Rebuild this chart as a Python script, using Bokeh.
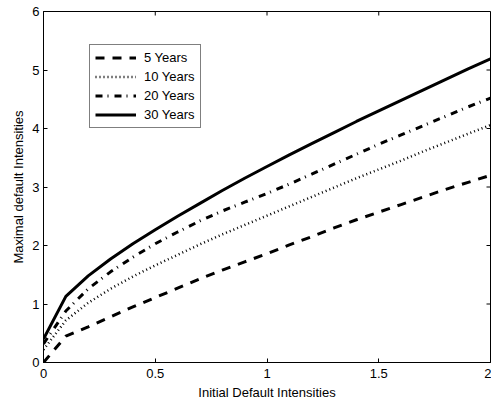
from bokeh.plotting import figure
from bokeh.models import LinearAxis, FixedTicker, Legend, LegendItem, Range1d
from bokeh.embed import file_html
from bokeh.resources import INLINE

x_vals = [0.0, 0.1, 0.2, 0.3, 0.4, 0.5, 0.6, 0.7, 0.8, 0.9, 1.0,
          1.1, 1.2, 1.3, 1.4, 1.5, 1.6, 1.7, 1.8, 1.9, 2.0]
y_5 = [0.0, 0.45, 0.61, 0.78, 0.95, 1.11, 1.27, 1.43, 1.58, 1.72, 1.86,
       2.01, 2.15, 2.30, 2.44, 2.57, 2.70, 2.83, 2.96, 3.08, 3.20]
y_10 = [0.22, 0.72, 1.02, 1.26, 1.47, 1.66, 1.84, 2.02, 2.19, 2.35, 2.51,
        2.67, 2.83, 2.99, 3.15, 3.30, 3.45, 3.61, 3.76, 3.91, 4.06]
y_20 = [0.32, 0.88, 1.26, 1.55, 1.80, 2.03, 2.23, 2.42, 2.59, 2.74, 2.89,
        3.05, 3.22, 3.39, 3.56, 3.73, 3.89, 4.05, 4.21, 4.37, 4.52]
y_30 = [0.40, 1.13, 1.48, 1.77, 2.03, 2.27, 2.50, 2.72, 2.94, 3.15, 3.35,
        3.55, 3.74, 3.93, 4.12, 4.30, 4.48, 4.66, 4.84, 5.02, 5.19]
series_names = ["5 Years", "10 Years", "20 Years", "30 Years"]
x_ticks = [0, 0.5, 1, 1.5, 2]
x_tick_labels = ["0", "0.5", "1", "1.5", "2"]
y_ticks = [0, 1, 2, 3, 4, 5, 6]
y_tick_labels = ["0", "1", "2", "3", "4", "5", "6"]
x_title = "Initial Default Intensities"
y_title = "Maximal default Intensities"

FONT = "Liberation Sans"
FS = "13px"
X0, X1, Y0, Y1 = 0, 2, 0, 6
W, H = 491, 403
BL, BR, BT, BB = 43, 1, 11, 41
FW, FH = W - BL - BR, H - BT - BB
TICK = 4

p = figure(width=W, height=H, output_backend="svg", toolbar_location=None,
           x_range=Range1d(X0, X1), y_range=Range1d(Y0, Y1),
           min_border_left=BL, min_border_right=BR, min_border_top=BT,
           min_border_bottom=BB, x_axis_type=None, y_axis_type=None)
p.background_fill_color = "white"
p.border_fill_color = "white"
p.outline_line_color = "black"
p.outline_line_width = 1


def style_axis(ax, ticks, labels):
    ax.ticker = FixedTicker(ticks=ticks)
    ax.major_label_overrides = {t: l for t, l in zip(ticks, labels)}
    ax.major_tick_in = TICK
    ax.major_tick_out = 0
    ax.minor_tick_in = 0
    ax.minor_tick_out = 0
    ax.axis_line_color = "black"
    ax.major_tick_line_color = "black"
    ax.major_label_text_font = FONT
    ax.major_label_text_font_size = FS
    ax.major_label_standoff = 4
    ax.axis_label_text_font = FONT
    ax.axis_label_text_font_style = "normal"
    ax.axis_label_text_font_size = FS
    ax.axis_label_text_color = "black"
    ax.major_label_text_color = "black"


xb = LinearAxis(axis_label=x_title)
style_axis(xb, x_ticks, x_tick_labels)
xb.major_label_standoff = 6
xb.axis_label_standoff = 4
p.add_layout(xb, "below")

yl = LinearAxis(axis_label=y_title)
style_axis(yl, y_ticks, y_tick_labels)
yl.axis_label_standoff = 3
p.add_layout(yl, "left")

# inward tick marks on the top and right edges (box style)
dy = (Y1 - Y0) * TICK / FH
dx = (X1 - X0) * TICK / FW
p.segment(x0=x_ticks, y0=[Y1] * len(x_ticks), x1=x_ticks,
          y1=[Y1 - dy] * len(x_ticks), line_color="black", line_width=1)
p.segment(x0=[X1] * len(y_ticks), y0=y_ticks, x1=[X1 - dx] * len(y_ticks),
          y1=y_ticks, line_color="black", line_width=1)

r5 = p.line(x_vals, y_5, line_color="black", line_width=3, line_dash="9 8")
r10 = p.line(x_vals, y_10, line_color="black", line_width=2.5, line_dash="1 3")
r20 = p.line(x_vals, y_20, line_color="black", line_width=3, line_dash="7 5 1 6")
r30 = p.line(x_vals, y_30, line_color="black", line_width=3)

legend = Legend(items=[LegendItem(label=n, renderers=[r])
                       for n, r in zip(series_names, [r5, r10, r20, r30])],
                location=(46, 234))
legend.label_text_font = FONT
legend.label_text_font_size = FS
legend.label_text_color = "black"
legend.border_line_color = "black"
legend.border_line_width = 1
legend.background_fill_color = "white"
legend.background_fill_alpha = 1
legend.padding = 5
legend.spacing = 4
legend.glyph_width = 41
legend.glyph_height = 13
legend.label_height = 13
legend.label_standoff = 8
legend.margin = 0
p.add_layout(legend, "center")

open("out.html", "w").write(file_html(p, INLINE))
